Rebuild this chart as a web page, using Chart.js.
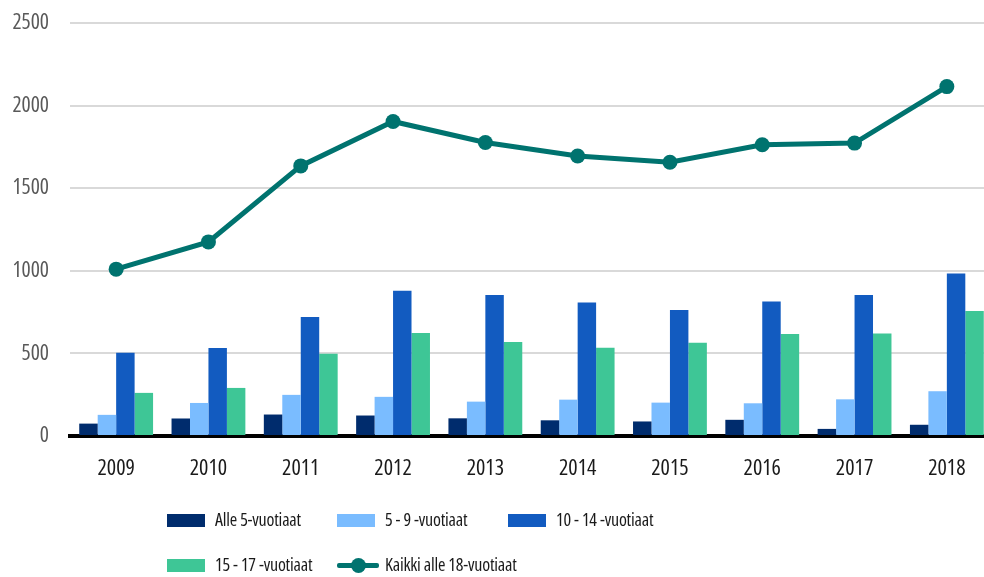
<!DOCTYPE html>
<html lang="fi">
<head>
    <meta charset="UTF-8">
    <title>Lapset vuosittain</title>
    <script src="https://cdn.jsdelivr.net/npm/chart.js"></script>
    <style>
        body { margin: 0; background: #fff; overflow: hidden; }
        #wrap { position: relative; width: 984px; height: 577px; overflow: hidden; }
        .lg { position: absolute; font-family: 'Open Sans', sans-serif; font-stretch: condensed; font-size: 18px; letter-spacing: -0.2px; color: #1a1a1a; line-height: 22px; white-space: nowrap; }
        .box { position: absolute; width: 38px; height: 13px; }
        .ln { position: absolute; width: 42px; height: 5px; background: #00736f; border-radius: 2px; }
        .dot { position: absolute; width: 15px; height: 15px; border-radius: 50%; background: #00736f; }
    </style>
</head>
<body>
    <div id="wrap">
        <!-- a bit wider than the picture: the original plot runs past the right edge -->
        <canvas id="chart" width="993" height="577"></canvas>
        <div id="legend"></div>
    </div>

    <script>
        let years = ['2009', '2010', '2011', '2012', '2013', '2014', '2015', '2016', '2017', '2018'];

        let under5 = [75, 106, 130, 124, 107, 95, 88, 98, 43, 68];
        let age5to9 = [128, 200, 249, 237, 208, 220, 202, 198, 222, 271];
        let age10to14 = [504, 532, 720, 879, 854, 808, 762, 814, 853, 983];
        let age15to17 = [261, 291, 498, 623, 569, 534, 565, 617, 621, 756];
        let allUnder18 = [1010, 1175, 1635, 1904, 1777, 1695, 1657, 1763, 1773, 2115];

        let labels = ['Alle 5-vuotiaat', '5 - 9 -vuotiaat', '10 - 14 -vuotiaat', '15 - 17 -vuotiaat', 'Kaikki alle 18-vuotiaat'];
        let colors = ['#002c6d', '#7abcff', '#125bc0', '#3ec696', '#00736f'];

        // Open Sans is a variable font here, "condensed" goes through the canvas font shorthand
        const fontFamily = "'Open Sans', sans-serif";

        function barSet(i, data) {
            return {
                type: 'bar',
                label: labels[i],
                data: data,
                backgroundColor: colors[i],
                borderWidth: 0,
                barPercentage: 1,
                categoryPercentage: 0.8,
                order: 2
            };
        }

        let ctx = document.getElementById('chart').getContext('2d');
        let chart = new Chart(ctx, {
            data: {
                labels: years,
                datasets: [
                    {
                        type: 'line',
                        label: labels[4],
                        data: allUnder18,
                        borderColor: colors[4],
                        backgroundColor: colors[4],
                        borderWidth: 5,
                        pointRadius: 7.5,
                        pointHoverRadius: 7.5,
                        pointBorderWidth: 0,
                        tension: 0,
                        order: 1
                    },
                    barSet(0, under5),
                    barSet(1, age5to9),
                    barSet(2, age10to14),
                    barSet(3, age15to17)
                ]
            },
            options: {
                responsive: false,
                animation: false,
                layout: { autoPadding: false, padding: { top: 23, right: 0, bottom: 96, left: 0 } },
                plugins: {
                    legend: { display: false },
                    tooltip: { enabled: false }
                },
                scales: {
                    x: {
                        offset: true,
                        grid: { display: false },
                        border: { color: '#000', width: 4 },
                        ticks: { color: '#1a1a1a', font: { family: fontFamily, size: 22, weight: 'condensed' }, padding: 12 },
                        afterFit: (s) => { s.height = 45; }
                    },
                    y: {
                        min: 0,
                        max: 2500,
                        ticks: {
                            stepSize: 500,
                            color: '#595959',
                            font: { family: fontFamily, size: 21.5, weight: 'condensed' },
                            padding: 21,
                            callback: (v) => String(v)
                        },
                        grid: { color: '#d9d9d9', lineWidth: 2, drawTicks: false },
                        border: { display: false },
                        afterFit: (s) => {
                            s.width = 70;
                            s.paddingTop = 0;
                            s.paddingBottom = 0;
                        }
                    }
                }
            }
        });

        // grid legend under the chart, three columns like the original
        let legend = document.getElementById('legend');
        let cols = [167, 337, 508];
        let rows = [520, 565];
        labels.forEach((txt, i) => {
            let x = cols[i % 3];
            let y = rows[Math.floor(i / 3)];
            let html = '';
            if (i < 4) {
                html += `<div class="box" style="left:${x}px;top:${y - 6}px;background:${colors[i]}"></div>`;
            } else {
                html += `<div class="ln" style="left:${x}px;top:${y - 2}px"></div>`;
                html += `<div class="dot" style="left:${x + 14}px;top:${y - 7}px"></div>`;
            }
            html += `<div class="lg" style="left:${x + 48}px;top:${y - 12}px">${txt}</div>`;
            legend.insertAdjacentHTML('beforeend', html);
        });
    </script>
</body>
</html>
